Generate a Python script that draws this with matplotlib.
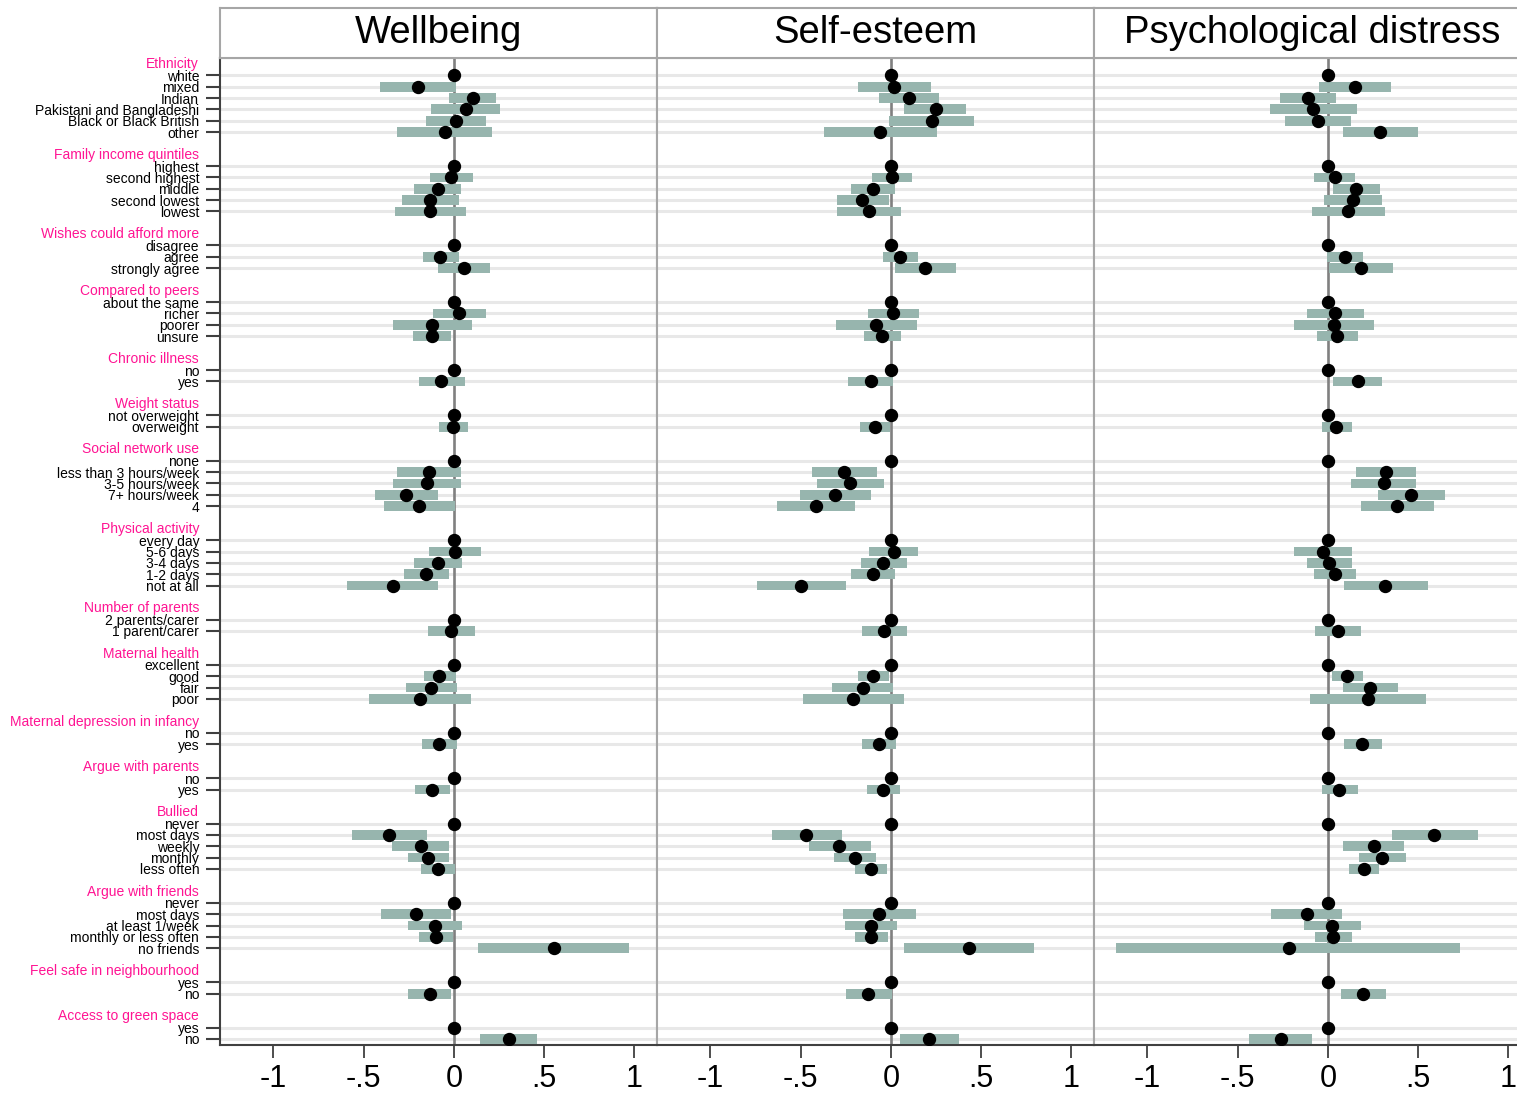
import numpy as np
import matplotlib
matplotlib.use("Agg")
import matplotlib.pyplot as plt
import matplotlib.transforms as mtransforms

plt.rcParams['font.family'] = ['Liberation Sans', 'DejaVu Sans']

nan = np.nan

# groups and their levels (first level is the reference)
groups = ["Ethnicity", "Family income quintiles", "Wishes could afford more",
          "Compared to peers", "Chronic illness", "Weight status", "Social network use",
          "Physical activity", "Number of parents", "Maternal health",
          "Maternal depression in infancy", "Argue with parents", "Bullied",
          "Argue with friends", "Feel safe in neighbourhood", "Access to green space"]

levels = [
    ["white", "mixed", "Indian", "Pakistani and Bangladeshi", "Black or Black British", "other"],
    ["highest", "second highest", "middle", "second lowest", "lowest"],
    ["disagree", "agree", "strongly agree"],
    ["about the same", "richer", "poorer", "unsure"],
    ["no", "yes"],
    ["not overweight", "overweight"],
    ["none", "less than 3 hours/week", "3-5 hours/week", "7+ hours/week", "4"],
    ["every day", "5-6 days", "3-4 days", "1-2 days", "not at all"],
    ["2 parents/carer", "1 parent/carer"],
    ["excellent", "good", "fair", "poor"],
    ["no", "yes"],
    ["no", "yes"],
    ["never", "most days", "weekly", "monthly", "less often"],
    ["never", "most days", "at least 1/week", "monthly or less often", "no friends"],
    ["yes", "no"],
    ["yes", "no"],
]

outcomes = ["Wellbeing", "Self-esteem", "Psychological distress"]

wellbeing_est = [0, -0.20, 0.105, 0.068, 0.012, -0.051,
                 0, -0.016, -0.091, -0.13, -0.13,
                 0, -0.075, 0.056,
                 0, 0.028, -0.119, -0.124,
                 0, -0.07,
                 0, -0.005,
                 0, -0.14, -0.149, -0.266, -0.193,
                 0, 0.005, -0.089, -0.152, -0.338,
                 0, -0.016,
                 0, -0.082, -0.126, -0.186,
                 0, -0.082,
                 0, -0.119,
                 0, -0.357, -0.184, -0.142, -0.091,
                 0, -0.21, -0.103, -0.098, 0.552,
                 0, -0.135,
                 0, 0.305]
wellbeing_lo = [nan, -0.41, -0.026, -0.126, -0.154, -0.315,
                nan, -0.13, -0.219, -0.287, -0.326,
                nan, -0.17, -0.086,
                nan, -0.114, -0.336, -0.226,
                nan, -0.193,
                nan, -0.082,
                nan, -0.315, -0.336, -0.436, -0.387,
                nan, -0.138, -0.219, -0.275, -0.592,
                nan, -0.142,
                nan, -0.166, -0.263, -0.469,
                nan, -0.175,
                nan, -0.214,
                nan, -0.564, -0.343, -0.254, -0.182,
                nan, -0.403, -0.254, -0.193, 0.135,
                nan, -0.254,
                nan, 0.145]
wellbeing_hi = [nan, 0.01, 0.233, 0.256, 0.18, 0.21,
                nan, 0.107, 0.04, 0.028, 0.068,
                nan, 0.028, 0.20,
                nan, 0.18, 0.10, -0.016,
                nan, 0.063,
                nan, 0.079,
                nan, 0.04, 0.04, -0.086, 0.005,
                nan, 0.152, 0.047, -0.026, -0.086,
                nan, 0.117,
                nan, 0.012, 0.019, 0.096,
                nan, 0.019,
                nan, -0.021,
                nan, -0.149, -0.026, -0.026, 0.005,
                nan, -0.016, 0.047, -0.005, 0.97,
                nan, -0.016,
                nan, 0.462]

esteem_est = [0, 0.017, 0.098, 0.25, 0.225, -0.059,
              0, 0.004, -0.1, -0.159, -0.124,
              0, 0.052, 0.189,
              0, 0.013, -0.085, -0.05,
              0, -0.113,
              0, -0.087,
              0, -0.261, -0.227, -0.31, -0.416,
              0, 0.015, -0.043, -0.1, -0.497,
              0, -0.037,
              0, -0.1, -0.157, -0.209,
              0, -0.068,
              0, -0.046,
              0, -0.468, -0.287, -0.201, -0.113,
              0, -0.068, -0.113, -0.109, 0.434,
              0, -0.126,
              0, 0.211]
esteem_lo = [nan, -0.183, -0.067, 0.072, -0.011, -0.372,
             nan, -0.105, -0.222, -0.3, -0.3,
             nan, -0.044, 0.022,
             nan, -0.128, -0.305, -0.15,
             nan, -0.238,
             nan, -0.172,
             nan, -0.438, -0.41, -0.505, -0.632,
             nan, -0.122, -0.166, -0.222, -0.743,
             nan, -0.161,
             nan, -0.183, -0.327, -0.488,
             nan, -0.161,
             nan, -0.133,
             nan, -0.66, -0.455, -0.316, -0.2,
             nan, -0.266, -0.255, -0.2, 0.072,
             nan, -0.25,
             nan, 0.05]
esteem_hi = [nan, 0.222, 0.264, 0.416, 0.46, 0.255,
             nan, 0.116, 0.022, -0.011, 0.055,
             nan, 0.15, 0.36,
             nan, 0.155, 0.144, 0.055,
             nan, 0.011,
             nan, -0.004,
             nan, -0.078, -0.039, -0.111, -0.2,
             nan, 0.15, 0.089, 0.022, -0.25,
             nan, 0.089,
             nan, -0.011, 0.011, 0.072,
             nan, 0.028,
             nan, 0.05,
             nan, -0.272, -0.111, -0.083, -0.022,
             nan, 0.139, 0.033, -0.017, 0.793,
             nan, 0.007,
             nan, 0.377]

distress_est = [0, 0.15, -0.113, -0.083, -0.055, 0.288,
                0, 0.037, 0.155, 0.137, 0.111,
                0, 0.094, 0.181,
                0, 0.041, 0.035, 0.052,
                0, 0.165,
                0, 0.046,
                0, 0.322, 0.309, 0.462, 0.383,
                0, -0.03, 0.006, 0.037, 0.318,
                0, 0.054,
                0, 0.107, 0.233, 0.222,
                0, 0.19,
                0, 0.063,
                0, 0.59, 0.253, 0.301, 0.198,
                0, -0.118, 0.022, 0.028, -0.218,
                0, 0.196,
                0, -0.261]
distress_lo = [nan, -0.05, -0.266, -0.322, -0.238, 0.083,
               nan, -0.078, 0.028, -0.022, -0.089,
               nan, -0.004, 0.007,
               nan, -0.116, -0.189, -0.061,
               nan, 0.028,
               nan, -0.033,
               nan, 0.155, 0.128, 0.277, 0.183,
               nan, -0.189, -0.116, -0.078, 0.089,
               nan, -0.072,
               nan, 0.022, 0.083, -0.1,
               nan, 0.089,
               nan, -0.033,
               nan, 0.355, 0.083, 0.172, 0.116,
               nan, -0.316, -0.133, -0.072, -1.176,
               nan, 0.072,
               nan, -0.438]
distress_hi = [nan, 0.349, 0.044, 0.161, 0.128, 0.499,
               nan, 0.15, 0.288, 0.3, 0.316,
               nan, 0.194, 0.36,
               nan, 0.2, 0.255, 0.166,
               nan, 0.3,
               nan, 0.133,
               nan, 0.488, 0.488, 0.649, 0.588,
               nan, 0.133, 0.133, 0.155, 0.555,
               nan, 0.183,
               nan, 0.194, 0.388, 0.543,
               nan, 0.3,
               nan, 0.166,
               nan, 0.832, 0.421, 0.433, 0.283,
               nan, 0.078, 0.183, 0.133, 0.732,
               nan, 0.322,
               nan, -0.089]

xticks = [-1, -0.5, 0, 0.5, 1]
xticklabels = ["-1", "-.5", "0", ".5", "1"]

BAR = '#97b5ae'
PINK = '#ff1493'
DARK = '#404040'
FRAME = '#a6a6a6'

W, H = 1517, 1097


def row_positions():
    # one row for the header, one per level, one blank between groups
    head_y, level_y = [], []
    r = 0
    for g, lv in zip(groups, levels):
        head_y.append(r)
        r += 1
        for _ in lv:
            level_y.append(r)
            r += 1
        r += 1
    return head_y, level_y


def panel(ax, est, lo, hi, level_y):
    est, lo, hi = np.array(est), np.array(lo), np.array(hi)
    y = np.array(level_y)
    ax.hlines(y, -2, 2, color='#e8e8e8', lw=2.2, zorder=1)
    ax.axvline(0, color='#808080', lw=1.9, zorder=2)
    ok = ~np.isnan(lo)
    ax.barh(y[ok], hi[ok] - lo[ok], left=lo[ok], height=0.86, color=BAR, zorder=3)
    ax.plot(est, y, 'o', color='black', ms=8.6, zorder=4)
    ax.set_xlim(-1.296, 1.125)
    ax.set_ylim(86.53, -0.53)
    ax.set_xticks(xticks)
    ax.set_xticklabels(xticklabels)
    ax.tick_params(axis='x', length=9, width=1.3, color=DARK, pad=5, labelsize=22)
    for s in ['top', 'right', 'left']:
        ax.spines[s].set_color(FRAME)
        ax.spines[s].set_linewidth(1.5)
    ax.spines['bottom'].set_color(DARK)
    ax.spines['bottom'].set_linewidth(1.5)


def main():
    head_y, level_y = row_positions()
    fig = plt.figure(figsize=(W / 100, H / 100), dpi=100)

    pw = 437.0
    series = [(wellbeing_est, wellbeing_lo, wellbeing_hi),
              (esteem_est, esteem_lo, esteem_hi),
              (distress_est, distress_lo, distress_hi)]

    for i, (name, (est, lo, hi)) in enumerate(zip(outcomes, series)):
        x0 = 220 + i * pw
        ax = fig.add_axes([x0 / W, 1 - 1045 / H, pw / W, (1045 - 58) / H])
        panel(ax, est, lo, hi, level_y)

        # title strip
        st = fig.add_axes([x0 / W, 1 - 58 / H, pw / W, 50 / H])
        st.set_xticks([])
        st.set_yticks([])
        for s in st.spines.values():
            s.set_color(FRAME)
            s.set_linewidth(1.5)
        st.text(0.5, 0.5, name, ha='center', va='center', fontsize=27.5, transform=st.transAxes)

        if i == 0:
            labels = [l for lv in levels for l in lv]
            ax.set_yticks(level_y)
            ax.set_yticklabels(labels)
            ax.tick_params(axis='y', length=10, width=1.5, color=DARK, pad=5, labelsize=10)
            ax.spines['left'].set_color(DARK)
            trans = mtransforms.blended_transform_factory(ax.transAxes, ax.transData)
            for g, hy in zip(groups, head_y):
                ax.text(-0.048, hy, g, color=PINK, fontsize=10, ha='right', va='center',
                        transform=trans)
        else:
            ax.set_yticks([])

    fig.savefig("out.png", dpi=100)


if __name__ == "__main__":
    main()
